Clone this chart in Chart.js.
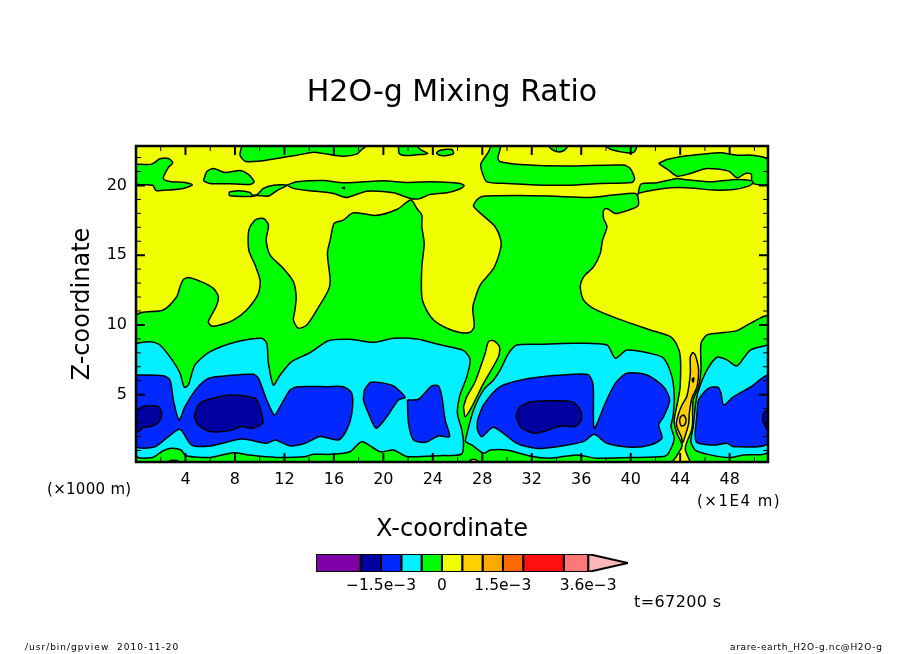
<!DOCTYPE html>
<html>
<head>
<meta charset="utf-8">
<title>H2O-g Mixing Ratio</title>
<script src="https://cdn.jsdelivr.net/npm/chart.js@4"></script>
<style>
    body { margin: 0; background: #fff; }
    #wrap { position: relative; width: 904px; height: 654px; }
    canvas { position: absolute; left: 0; display: block; }
</style>
</head>
<body>
<div id="wrap">
    <canvas id="main" width="904" height="654" style="top:0"></canvas>
    <canvas id="bar" width="904" height="70" style="top:540px"></canvas>
</div>
<script>
// axis ranges and ticks (x in 1000 km units of the plot, z in km)
const xMin = 0, xMax = 51.1, zMin = 0.17, zMax = 22.83;
const xMajor = [4, 8, 12, 16, 20, 24, 28, 32, 36, 40, 44, 48];
const xMinor = [2, 6, 10, 14, 18, 22, 26, 30, 34, 38, 42, 46, 50];
const zMajor = [5, 10, 15, 20];
const zMinor = [1, 2, 3, 4, 6, 7, 8, 9, 11, 12, 13, 14, 16, 17, 18, 19, 21, 22];

// colour bar levels (units of 1e-3)
const barLevels = [-3.1, -2, -1.5, -1, -0.5, 0, 0.5, 1, 1.5, 2, 3, 3.6];
const barColors = ['#8000a8', '#0000a0', '#0028ff', '#00f0ff', '#00ff00', '#f0ff00', '#ffd000', '#ffa800', '#ff6800', '#ff1010', '#ff7878'];
const barTip = 4.58;
const barTickValues = [-1.5, 0, 1.5, 3.6];
const barTickLabels = ['−1.5e−3', '0', '1.5e−3', '3.6e−3'];

// contours as [x, z]
const domain = [[0, 0.17], [0, 22.83], [51.1, 22.83], [51.1, 0.17]];

const greenTop1 = [[8.55,22.83],[8.41,22.17],[8.82,21.74],[9.9,21.74],[11.38,21.94],[13.0,22.17],[14.35,22.39],[15.43,22.25],[16.77,22.1],[17.85,22.25],[18.26,22.58],[18.61,22.83]];
const greenTop2 = [[21.22,22.83],[21.28,22.29],[21.76,22.15],[22.71,22.2],[23.57,22.29],[22.98,22.58],[22.71,22.83]];
const greenTop3 = [[24.27,22.34],[24.6,22.53],[25.54,22.58],[25.67,22.29],[25.13,22.15],[24.54,22.17]];
const greenTop4 = [[33.36,22.83],[33.63,22.58],[34.08,22.41],[34.57,22.49],[34.89,22.83]];
const greenTop5 = [[37.94,22.83],[38.35,22.6],[39.69,22.34],[40.29,22.41],[40.45,22.83]];
const greenLeft = [[0,21.53],[1.27,21.53],[1.94,21.91],[2.62,21.94],[2.97,21.63],[2.62,21.29],[2.21,20.5],[2.75,20.29],[3.96,20.22],[4.56,20.05],[3.83,19.79],[2.48,19.67],[1.62,19.64],[1.35,20.02],[0,20.14]];
const greenOval = [[5.45,20.33],[5.72,20.98],[6.26,21.22],[7.2,20.93],[8.41,21.08],[9.09,20.79],[9.55,20.26],[9.22,20.07],[7.61,20.12],[5.99,20.14]];
const greenThin = [[7.55,19.55],[8.28,19.62],[9.22,19.5],[9.41,19.31],[9.82,19.36],[10.3,19.79],[11.11,20.02],[12.19,20.02],[11.38,19.62],[10.71,19.24],[9.76,19.28],[9.22,19.21],[7.55,19.28]];
const greenBand = [[12.19,20.02],[13.0,20.26],[15.16,20.36],[16.77,20.19],[18.39,20.26],[20.01,20.33],[21.9,20.22],[23.79,20.26],[25.4,20.22],[26.21,20.14],[26.53,19.98],[26.07,19.71],[25.13,19.47],[23.79,19.36],[22.98,19.07],[22.17,19.07],[20.82,19.47],[18.66,19.59],[17.04,19.14],[15.97,19.43],[14.08,19.62],[12.73,19.79]];
const greenCentre = [[28.69,22.83],[28.5,22.41],[27.88,21.53],[28.02,20.86],[28.37,20.26],[29.98,20.14],[32.95,20.02],[35.11,20.02],[37.54,20.14],[40.1,20.22],[40.31,20.5],[39.96,21.22],[39.42,21.46],[34.84,21.39],[31.06,21.51],[29.45,21.7],[29.26,21.94],[29.45,22.65],[29.45,22.83]];
const greenRightBlob = [[42.26,21.58],[42.93,21.86],[44.28,22.1],[45.9,22.25],[47.24,22.34],[48.59,22.17],[49.81,22.17],[51.1,21.86],[51.1,20.09],[49.81,20.19],[49.75,20.81],[49.27,20.86],[48.59,20.55],[47.92,21.03],[46.17,21.22],[44.82,20.86],[43.74,20.67],[43.06,21.1]];
const greenRightBand = [[40.58,19.31],[40.83,20.09],[42.12,20.19],[43.74,20.5],[44.28,20.43],[46.44,20.26],[48.59,20.43],[49.81,20.33],[49.89,20.19],[49.54,19.95],[48.32,19.71],[46.7,19.67],[45.36,19.79],[43.74,19.86],[42.66,19.79],[41.31,19.59],[40.64,19.43]];
const greenMainLeft = [[0,0.17],[0,10.64],[2.21,11.07],[3.29,12.02],[3.56,12.74],[3.83,13.26],[4.23,13.4],[5.31,13.09],[6.26,12.62],[6.66,12.02],[6.47,11.3],[5.85,10.23],[6.12,9.92],[6.8,10.0],[7.87,10.35],[8.95,11.07],[9.9,12.26],[10.03,13.21],[9.63,14.29],[9.12,15.36],[9.12,16.8],[9.63,17.52],[10.3,17.63],[10.71,17.16],[10.52,16.08],[10.84,15.01],[11.92,14.05],[12.73,13.09],[12.95,12.02],[12.86,11.11],[12.73,10.35],[13.13,9.76],[13.81,10.0],[14.62,11.07],[15.56,12.5],[15.7,13.21],[15.48,15.13],[15.7,16.08],[16.02,17.28],[16.77,17.52],[17.58,18.04],[19.34,17.85],[21.09,18.28],[22.22,18.95],[22.71,18.35],[23.11,17.87],[23.11,17.04],[23.3,15.84],[23.11,14.17],[23.11,12.02],[23.46,11.11],[24.06,10.35],[25.13,9.76],[26.21,9.45],[27.02,9.47],[27.34,9.88],[27.23,11.07],[27.29,11.54],[27.83,12.86],[28.91,14.05],[29.45,15.36],[29.5,16.08],[29.04,17.04],[28.23,17.71],[27.29,18.52],[27.69,19.07],[28.23,19.24],[30.79,19.28],[33.49,19.24],[36.73,19.14],[38.61,19.31],[40.37,19.43],[40.58,19.19],[40.58,18.52],[39.42,18.11],[38.75,17.99],[38.08,18.35],[37.81,18.23],[37.81,17.63],[38.08,17.04],[37.72,16.08],[37.54,15.13],[37.0,14.17],[36.19,13.45],[35.92,12.74],[36.19,11.78],[37.13,11.11],[38.88,10.47],[41.58,9.64],[43.2,9.16],[43.74,8.56],[44.01,7.72],[44.0,5.6],[43.83,4.62],[43.55,3.4],[43.52,2.95],[43.75,2.2],[44.1,1.55],[44.15,1.3],[43.95,0.95],[43.25,0.17]];
const greenMainRight = [[44.82,0.17],[44.42,1.03],[44.5,1.5],[44.9,2.4],[45.0,2.95],[45.0,3.66],[45.05,4.62],[45.49,5.57],[45.68,6.77],[45.68,8.68],[46.17,9.28],[46.98,9.4],[48.59,9.59],[49.67,10.11],[51.1,10.59],[51.1,0.17]];

const cyanLeft = [[0,8.68],[1.13,8.8],[1.94,8.56],[3.02,7.37],[3.56,6.53],[3.91,5.53],[4.23,5.69],[4.77,7.13],[5.99,8.08],[8.14,8.8],[10.17,9.04],[10.57,8.68],[10.71,7.25],[11.11,5.69],[11.65,6.41],[12.59,7.37],[14.08,8.01],[15.56,8.87],[17.31,8.97],[19.2,8.75],[20.82,9.04],[22.71,8.99],[24.33,8.63],[26.21,8.25],[26.61,8.08],[27.02,7.49],[26.75,6.29],[26.16,4.86],[25.99,3.66],[26.34,2.47],[26.48,1.51],[26.34,0.75],[25.4,0.63],[24.87,0.63],[21.9,0.56],[20.82,1.03],[19.74,0.91],[18.26,1.63],[17.31,0.91],[15.7,0.72],[14.35,0.72],[13.6,0.54],[11.37,0.5],[9.15,0.67],[7.87,0.84],[5.99,0.5],[4.05,0.62],[3.64,1.03],[2.84,1.15],[2.16,0.96],[1.35,0.5],[0,0.62]];
const cyanMiddle = [[26.61,1.63],[26.8,2.35],[27.29,3.9],[28.1,5.34],[28.91,6.05],[29.45,6.77],[30.12,7.96],[30.79,8.56],[32.68,8.61],[35.38,8.68],[38.08,8.56],[38.75,7.61],[39.69,8.2],[41.58,7.96],[42.66,7.61],[43.33,6.29],[43.52,4.86],[43.42,3.42],[43.25,2.71],[43.52,1.87],[43.06,0.8],[42.66,0.56],[39.96,0.49],[37.27,0.44],[35.65,0.68],[33.49,0.44],[31.87,0.6],[29.98,1.03],[28.64,1.03],[28.1,0.8],[27.15,1.39]];
const cyanRight = [[51.1,8.56],[49.67,8.2],[48.59,7.06],[47.78,7.49],[46.98,7.68],[46.17,6.77],[45.49,5.34],[45.25,4.38],[45.14,3.42],[45.05,2.71],[44.87,1.63],[45.22,1.03],[46.44,0.68],[48.0,0.49],[49.13,0.68],[51.1,0.91]];

const blueLeft = [[0,6.41],[2.21,6.36],[2.75,6.05],[3.02,4.62],[3.48,3.18],[3.96,4.14],[4.91,5.45],[5.85,6.17],[7.34,6.36],[9.49,6.46],[9.9,6.17],[10.57,4.62],[11.19,3.54],[11.65,4.14],[12.46,5.34],[13.13,5.57],[15.43,5.57],[16.77,5.57],[17.45,5.1],[17.45,3.66],[17.04,2.47],[16.37,1.75],[14.89,1.99],[13.67,1.51],[12.46,1.32],[11.25,1.75],[10.57,1.51],[8.55,1.82],[5.99,1.32],[4.5,1.39],[3.56,2.52],[2.62,1.99],[1.54,1.27],[0,1.32]];
const blueSmall1 = [[18.47,5.34],[18.93,5.86],[19.61,5.88],[20.82,5.62],[21.76,4.81],[21.22,4.62],[20.28,3.42],[19.42,2.59],[18.8,3.66],[18.39,4.62]];
const blueSmall2 = [[21.95,4.62],[22.84,4.67],[23.92,5.62],[24.46,5.62],[24.73,4.86],[25.0,3.18],[25.35,1.99],[24.46,2.04],[23.38,1.58],[22.44,1.75],[22.03,2.95]];
const blueMiddle = [[27.61,3.18],[28.1,4.26],[29.45,5.57],[31.87,6.17],[35.38,6.46],[36.59,6.41],[36.96,5.69],[37.05,2.59],[37.94,4.38],[38.75,5.81],[39.69,6.53],[41.31,6.41],[42.66,5.57],[43.15,4.62],[42.66,3.42],[42.26,2.83],[42.53,1.87],[41.58,1.39],[40.1,1.23],[38.08,1.51],[37.05,2.16],[36.19,1.63],[34.03,1.27],[32.41,1.15],[30.79,1.51],[28.91,2.66],[27.96,1.99],[27.61,2.47]];
const blueRight = [[45.36,3.66],[45.49,4.62],[46.3,5.46],[47.06,5.53],[47.3,5.1],[47.51,4.26],[48.32,4.86],[49.67,5.53],[51.1,6.34],[51.1,1.54],[48.32,1.27],[47.78,1.51],[46.7,1.39],[45.28,1.63]];

const darkLeft = [[0,3.9],[0.73,4.19],[1.81,4.14],[2.08,3.62],[1.81,3.0],[1.19,2.71],[0.59,2.66],[0.32,2.42],[0,2.35]];
const darkSecond = [[4.69,3.42],[5.04,4.26],[5.72,4.62],[7.61,4.98],[9.63,4.74],[10.03,4.02],[10.25,2.95],[9.36,2.59],[8.55,2.71],[7.61,2.42],[5.99,2.35],[5.04,2.83]];
const darkThird = [[30.71,3.42],[31.06,4.14],[32.14,4.5],[35.24,4.5],[35.92,3.9],[36.0,3.18],[35.51,2.71],[34.3,2.75],[32.41,2.23],[31.2,2.59]];
const darkRight = [[51.1,3.95],[50.75,3.66],[50.67,3.18],[50.89,2.71],[51.1,2.52]];

const yellowFinger = [[26.48,4.14],[26.61,3.42],[27.02,3.9],[28.1,5.81],[29.31,7.72],[29.39,8.44],[28.91,8.87],[28.5,8.8],[28.23,7.96],[27.42,5.93],[26.75,4.86]];
const yellowFoot1 = [[2.62,0.17],[2.8,0.28],[3.29,0.28],[3.4,0.17]];
const yellowFoot2 = [[26.88,0.17],[27.1,0.33],[27.4,0.36],[27.69,0.17]];
const yellowSpeck = [[16.65,19.83],[16.85,19.88],[16.85,19.78]];

const orangeTongue = [[45.01,8.04],[45.22,7.84],[45.49,6.77],[45.36,5.57],[44.95,4.74],[44.74,3.66],[44.69,2.94],[44.47,2.23],[44.2,1.55],[44.09,1.98],[43.83,2.46],[43.69,2.94],[43.88,3.66],[44.15,4.26],[44.55,4.9],[44.82,6.53],[44.82,7.72]];
const orangeCore = [[44.03,3.42],[43.95,3.14],[44.09,2.76],[44.36,2.83],[44.47,3.23],[44.28,3.54]];
const orangeSpeck = [[44.95,6.1],[45.1,6.2],[45.05,5.9]];

const yellow = '#f0ff00', green = '#00ff00', cyan = '#00f0ff', blue = '#0028ff', dark = '#0000a0', orange = '#ffd000';

// painted bottom to top
const layers = [
    [domain, yellow, 0],
    [greenTop1, green], [greenTop2, green], [greenTop3, green], [greenTop4, green], [greenTop5, green],
    [greenLeft, green], [greenOval, green], [greenThin, green], [greenBand, green], [greenCentre, green],
    [greenRightBlob, green], [greenRightBand, green], [greenMainLeft, green], [greenMainRight, green],
    [yellowFinger, yellow], [yellowFoot1, yellow], [yellowFoot2, yellow], [yellowSpeck, yellow],
    [cyanLeft, cyan], [cyanMiddle, cyan], [cyanRight, cyan],
    [blueLeft, blue], [blueSmall1, blue], [blueSmall2, blue], [blueMiddle, blue], [blueRight, blue],
    [darkLeft, dark], [darkSecond, dark], [darkThird, dark], [darkRight, dark],
    [orangeTongue, orange], [orangeCore, orange], [orangeSpeck, orange]
];

function polygon(points, color, width, order, tension) {
    const data = points.concat([points[0]]).map(p => ({ x: p[0], y: p[1] }));
    return {
        data,
        showLine: true,
        fill: 'shape',
        backgroundColor: color,
        borderColor: '#000',
        borderWidth: width,
        borderJoinStyle: 'round',
        pointRadius: 0,
        pointHoverRadius: 0,
        tension,
        order
    };
}

const contourFrame = {
    id: 'contourFrame',
    afterDatasetsDraw(chart) {
        const ctx = chart.ctx, area = chart.chartArea;
        const xs = chart.scales.x, ys = chart.scales.y;
        ctx.save();
        ctx.strokeStyle = '#000';
        const mark = (values, horizontal, len, width) => {
            ctx.lineWidth = width;
            ctx.beginPath();
            values.forEach(v => {
                if (horizontal) {
                    const px = xs.getPixelForValue(v);
                    ctx.moveTo(px, area.bottom); ctx.lineTo(px, area.bottom - len);
                    ctx.moveTo(px, area.top); ctx.lineTo(px, area.top + len);
                } else {
                    const py = ys.getPixelForValue(v);
                    ctx.moveTo(area.left, py); ctx.lineTo(area.left + len, py);
                    ctx.moveTo(area.right, py); ctx.lineTo(area.right - len, py);
                }
            });
            ctx.stroke();
        };
        mark(xMajor, true, 9, 2);
        mark(xMinor, true, 5, 1);
        mark(zMajor, false, 9, 2);
        mark(zMinor, false, 5, 1);
        ctx.lineWidth = 2.5;
        ctx.strokeRect(area.left, area.top, area.right - area.left, area.bottom - area.top);
        ctx.restore();
    },
    afterDraw(chart) {
        const ctx = chart.ctx;
        ctx.save();
        ctx.fillStyle = '#000';
        ctx.textBaseline = 'middle';
        ctx.textAlign = 'left';
        ctx.font = '15px "DejaVu Sans"';
        ctx.letterSpacing = '0.3px';
        ctx.fillText('(×1000 m)', 47, 490);
        ctx.letterSpacing = '1.5px';
        ctx.fillText('(×1E4 m)', 697, 502);
        ctx.font = '16px "DejaVu Sans"';
        ctx.letterSpacing = '0.4px';
        ctx.fillText('t=67200 s', 634, 603);
        ctx.font = '9px "DejaVu Sans"';
        ctx.letterSpacing = '1px';
        ctx.fillText('/usr/bin/gpview  2010-11-20', 25, 648);
        ctx.letterSpacing = '0.65px';
        ctx.fillText('arare-earth_H2O-g.nc@H2O-g', 730, 648);
        ctx.restore();
    }
};

new Chart(document.getElementById('main'), {
    type: 'scatter',
    data: { datasets: layers.map((l, i) => polygon(l[0], l[1], l[2] === 0 ? 0 : 1.5, layers.length - i, l[2] === 0 ? 0 : 0.25)) },
    plugins: [contourFrame],
    options: {
        responsive: false,
        animation: false,
        devicePixelRatio: 1,
        events: [],
        layout: { padding: 0 },
        plugins: {
            legend: { display: false },
            tooltip: { enabled: false },
            title: {
                display: true,
                text: 'H2O-g Mixing Ratio',
                color: '#000',
                font: { family: '"DejaVu Sans"', size: 30, weight: 'normal' },
                padding: { top: 75, bottom: 35 }
            }
        },
        scales: {
            x: {
                type: 'linear',
                min: xMin, max: xMax,
                grid: { display: false, drawTicks: false },
                border: { display: false },
                afterBuildTicks(scale) { scale.ticks = xMajor.map(v => ({ value: v })); },
                afterFit(scale) { scale.height = 192; },
                ticks: { color: '#000', font: { family: '"DejaVu Sans"', size: 16 }, padding: 8, autoSkip: false, maxRotation: 0, callback: v => String(v) },
                title: { display: true, text: 'X-coordinate', color: '#000', font: { family: '"DejaVu Sans"', size: 24 }, padding: { top: 0, bottom: 110 } }
            },
            y: {
                type: 'linear',
                min: zMin, max: zMax,
                grid: { display: false, drawTicks: false },
                border: { display: false },
                afterBuildTicks(scale) { scale.ticks = zMajor.map(v => ({ value: v })); },
                afterFit(scale) { scale.width = 136; },
                ticks: { color: '#000', font: { family: '"DejaVu Sans"', size: 16 }, padding: 9, autoSkip: false, maxRotation: 0, callback: v => String(v) },
                title: { display: true, text: 'Z-coordinate', color: '#000', font: { family: '"DejaVu Sans"', size: 24 }, padding: { top: 68, bottom: 0 } }
            },
            // empty right side axis, only keeps the margin so the title stays centred on the page
            margin: {
                type: 'linear',
                position: 'right',
                grid: { display: false, drawTicks: false },
                border: { display: false },
                ticks: { display: false },
                afterFit(scale) { scale.width = 136; }
            }
        }
    }
});

// colour bar: cells are built from the levels on a value axis
const barCells = barColors.map((c, i) => polygon([[barLevels[i], 0], [barLevels[i], 1], [barLevels[i + 1], 1], [barLevels[i + 1], 0]], c, 2, 5, 0));
const barArrow = polygon([[3.6, 0], [3.6, 1], [barTip, 0.5]], '#ffb8b8', 2, 5, 0);

new Chart(document.getElementById('bar'), {
    type: 'scatter',
    data: { datasets: barCells.concat([barArrow]) },
    options: {
        responsive: false,
        animation: false,
        devicePixelRatio: 1,
        events: [],
        layout: { padding: { left: 316, top: 14, right: 276, bottom: 0 } },
        plugins: { legend: { display: false }, tooltip: { enabled: false }, title: { display: false } },
        scales: {
            x: {
                type: 'linear',
                min: barLevels[0], max: barTip,
                grid: { display: false, drawTicks: false },
                border: { display: false },
                afterBuildTicks(scale) { scale.ticks = barTickValues.map(v => ({ value: v })); },
                afterFit(scale) { scale.height = 38; },
                ticks: { color: '#000', font: { family: '"DejaVu Sans"', size: 15.5 }, padding: 5, autoSkip: false, maxRotation: 0, callback: v => barTickLabels[barTickValues.indexOf(v)] }
            },
            y: { type: 'linear', min: 0, max: 1, display: false }
        }
    }
});
</script>
</body>
</html>
